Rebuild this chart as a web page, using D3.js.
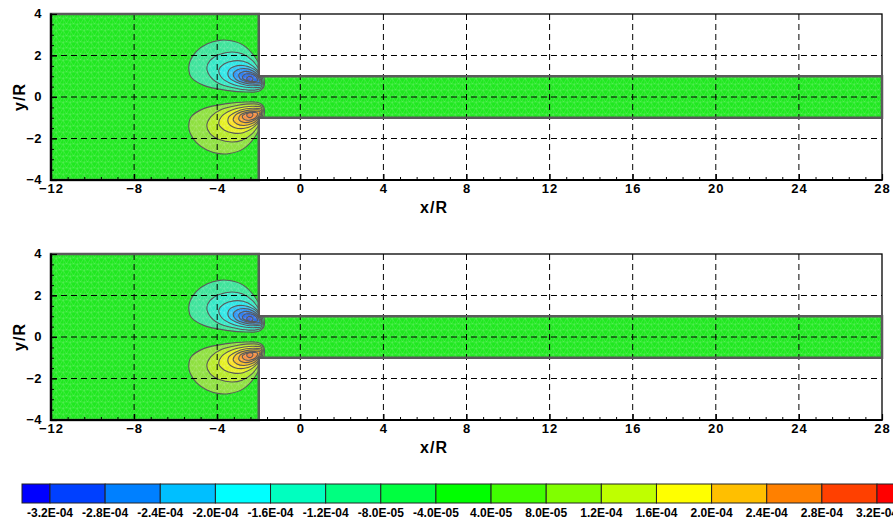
<!DOCTYPE html>
<html><head><meta charset="utf-8">
<script src="https://cdn.jsdelivr.net/npm/d3@7"></script>
<style>
body{margin:0;background:#fff}
svg{display:block}
text{font-family:"Liberation Sans",Arial,sans-serif;font-weight:bold;fill:#000}
</style>
</head><body>
<svg id="chart" width="893" height="520"></svg>
<script>
// ---------- data ----------
const xTicks = [-12,-8,-4,0,4,8,12,16,20,24,28];
const yTicks = [-4,-2,0,2,4];
const xGrid = [-8,-4,0,4,8,12,16,20,24];
const yGrid = [-2,0,2];
const domainOutline = [[-12,4],[-2,4],[-2,1],[28,1],[28,-1],[-2,-1],[-2,-4],[-12,-4]];
// contour levels (magnitude) of the two lobes near the step corner
const contourLevels = [4e-5, 8e-5, 1.2e-4, 1.6e-4, 2.0e-4, 2.4e-4, 2.8e-4, 3.2e-4];
// outline of each level, points (x/R, |y/R|)
const lobeOutline04 = [[-1.75,0.5],[-1.85,1.3],[-2.2,1.95],[-2.75,2.5],[-3.4,2.72],[-3.9,2.73],[-4.5,2.55],[-5.0,2.2],[-5.3,1.75],[-5.37,1.4],[-5.25,0.95],[-4.65,0.56],[-3.55,0.32],[-2.6,0.24],[-2.0,0.28]];
const lobeOutline08 = [[-1.8,0.5],[-1.9,1.15],[-2.3,1.75],[-2.8,2.08],[-3.3,2.17],[-3.9,2.05],[-4.35,1.75],[-4.5,1.4],[-4.3,0.95],[-3.8,0.6],[-3.0,0.4],[-2.3,0.33],[-1.95,0.38]];
const lobeOutline12 = [[-1.85,0.55],[-1.95,1.1],[-2.3,1.5],[-2.75,1.72],[-3.2,1.74],[-3.65,1.6],[-3.92,1.3],[-3.8,0.95],[-3.35,0.65],[-2.7,0.48],[-2.15,0.45],[-1.9,0.48]];
const lobeOutline16 = [[-1.85,0.6],[-1.95,1.05],[-2.3,1.38],[-2.75,1.52],[-3.15,1.48],[-3.45,1.28],[-3.45,0.98],[-3.1,0.72],[-2.6,0.57],[-2.1,0.55]];
const lobeOutline20 = [[-1.9,0.65],[-2.0,1.0],[-2.3,1.27],[-2.7,1.37],[-3.05,1.3],[-3.23,1.1],[-3.1,0.85],[-2.7,0.68],[-2.2,0.62]];
const lobeOutline24 = [[-1.95,0.7],[-2.05,0.98],[-2.35,1.18],[-2.7,1.23],[-2.95,1.1],[-2.9,0.88],[-2.6,0.74],[-2.2,0.7]];
const lobeOutline28 = [[-2.05,0.78],[-2.15,1.0],[-2.45,1.12],[-2.72,1.07],[-2.78,0.9],[-2.55,0.78],[-2.25,0.75]];
const lobeOutline32 = [[-2.28,0.86],[-2.35,0.97],[-2.5,0.98],[-2.58,0.88],[-2.5,0.76],[-2.35,0.76]];
const lobeOutlines = [lobeOutline04,lobeOutline08,lobeOutline12,lobeOutline16,lobeOutline20,lobeOutline24,lobeOutline28,lobeOutline32];
const lobeSigns = [1,-1]; // upper lobe (negative values), lower lobe (positive values)
// flood colour seen inside each contour (outer -> inner)
const negLobeFill = ["#3ee39a","#36e8c6","#2ee6e6","#30c6f6","#3098f6","#3080f0","#3070e8","#4062e0"];
const posLobeFill = ["#8ee040","#b8ea2a","#e6f022","#f8e022","#f8c028","#f8a030","#f89040","#f08040"];
const colorbarLabels = ["-3.2E-04","-2.8E-04","-2.4E-04","-2.0E-04","-1.6E-04","-1.2E-04","-8.0E-05","-4.0E-05",
                        "4.0E-05","8.0E-05","1.2E-04","1.6E-04","2.0E-04","2.4E-04","2.8E-04","3.2E-04"];
const colorbarColors = ["#0000ff","#0040ff","#0080ff","#00bfff","#00ffff","#00ffbf","#00ff80","#00ff40","#00ff00",
                        "#40ff00","#80ff00","#bfff00","#ffff00","#ffbf00","#ff8000","#ff4000","#ff0000"];
const panelsY = [[180,14],[420,254]];

// ---------- drawing ----------
const svg = d3.select("#chart");
const W = 893;
const bgGreen = "#20e820";
const gray = "#5a5a5a";

// faint triangular mesh texture
const defs = svg.append("defs");
const pat = defs.append("pattern").attr("id", "mesh").attr("patternUnits", "userSpaceOnUse")
  .attr("width", 7).attr("height", 6);
pat.append("path").attr("d", "M0,0L7,0M0,0L3.5,6M7,0L3.5,6M0,6L7,6M0,0L0,6")
  .attr("stroke", "#ffffff").attr("stroke-opacity", 0.22).attr("stroke-width", 0.6).attr("fill", "none");

panelsY.forEach((yr, pi) => {
  const x = d3.scaleLinear().domain([-12,28]).range([51,882]);
  const y = d3.scaleLinear().domain([-4,4]).range(yr);
  const g = svg.append("g");
  const domPath = "M" + domainOutline.map(p => [x(p[0]), y(p[1])].join(",")).join("L") + "Z";
  const clipId = "dom" + pi;
  g.append("clipPath").attr("id", clipId).append("path").attr("d", domPath);

  g.append("path").attr("d", domPath).attr("fill", bgGreen);

  const cg = g.append("g").attr("clip-path", `url(#${clipId})`);
  const line = s => d3.line().x(d => x(d[0])).y(d => y(s * d[1])).curve(d3.curveCatmullRomClosed.alpha(0.5));
  lobeSigns.forEach(s => {
    const fills = s > 0 ? negLobeFill : posLobeFill;
    lobeOutlines.forEach((pts, k) => {
      cg.append("path").attr("d", line(s)(pts)).attr("fill", fills[k]);
    });
  });
  cg.append("rect").attr("x", x(-12)).attr("y", y(4)).attr("width", x(28)-x(-12)).attr("height", y(-4)-y(4))
    .attr("fill", "url(#mesh)");
  lobeSigns.forEach(s => {
    lobeOutlines.forEach(pts => {
      cg.append("path").attr("d", line(s)(pts)).attr("fill", "none")
        .attr("stroke", gray).attr("stroke-width", 1.1);
    });
  });

  // grid
  const gg = g.append("g").attr("stroke", "#000").attr("stroke-width", 1).attr("stroke-dasharray", "6,4");
  xGrid.forEach(v => gg.append("line").attr("x1", x(v)).attr("x2", x(v)).attr("y1", y(-4)).attr("y2", y(4)));
  yGrid.forEach(v => gg.append("line").attr("x1", x(-12)).attr("x2", x(28)).attr("y1", y(v)).attr("y2", y(v)));

  // frame
  g.append("rect").attr("x", x(-12)).attr("y", y(4)).attr("width", x(28)-x(-12)).attr("height", y(-4)-y(4))
    .attr("fill", "none").attr("stroke", "#000").attr("stroke-width", 1.3);
  // domain boundary
  g.append("path").attr("d", domPath).attr("fill", "none").attr("stroke", gray).attr("stroke-width", 2.5);

  // axes
  const xMinor = d3.range(-12, 28.01, 0.8).filter(v => Math.abs(v/4 - Math.round(v/4)) > 1e-6);
  const yMinor = d3.range(-4, 4.01, 0.5).filter(v => Math.abs(v/2 - Math.round(v/2)) > 1e-6);
  const ax = g.append("g").attr("transform", `translate(0,${y(-4)})`)
    .call(d3.axisBottom(x).tickValues(xTicks).tickSizeInner(-6).tickSizeOuter(0).tickPadding(4).tickFormat(d3.format("d")));
  ax.select(".domain").remove();
  ax.selectAll("line").attr("stroke", "#000").attr("stroke-width", 1.2);
  ax.selectAll("text").style("font-size", "13px").style("letter-spacing", "1px");
  const axm = g.append("g").attr("transform", `translate(0,${y(-4)})`)
    .call(d3.axisBottom(x).tickValues(xMinor).tickSizeInner(-3).tickSizeOuter(0).tickFormat(""));
  axm.select(".domain").remove();
  axm.selectAll("line").attr("stroke", "#000").attr("stroke-width", 1);

  const ay = g.append("g").attr("transform", `translate(${x(-12)},0)`)
    .call(d3.axisLeft(y).tickValues(yTicks).tickSizeInner(-6).tickSizeOuter(0).tickPadding(9).tickFormat(d3.format("d")));
  ay.select(".domain").remove();
  ay.selectAll("line").attr("stroke", "#000").attr("stroke-width", 1.2);
  ay.selectAll("text").style("font-size", "13px").style("letter-spacing", "0.5px").attr("dy", "0.3em");
  const aym = g.append("g").attr("transform", `translate(${x(-12)},0)`)
    .call(d3.axisLeft(y).tickValues(yMinor).tickSizeInner(-3).tickSizeOuter(0).tickFormat(""));
  aym.select(".domain").remove();
  aym.selectAll("line").attr("stroke", "#000").attr("stroke-width", 1);

  g.append("line").attr("x1", x(-12)).attr("x2", x(-12)).attr("y1", y(4)-0.5).attr("y2", y(-4)+1)
    .attr("stroke", "#000").attr("stroke-width", 2.2);
  g.append("line").attr("x1", x(-12)-1).attr("x2", x(28)+0.5).attr("y1", y(-4)).attr("y2", y(-4))
    .attr("stroke", "#000").attr("stroke-width", 2.2);

  g.append("text").attr("x", 434).attr("y", y(-4) + 33).attr("text-anchor", "middle")
    .style("font-size", "16px").style("letter-spacing", "1px").text("x/R");
  g.append("text").attr("transform", `translate(25,${y(0)}) rotate(-90)`).attr("text-anchor", "middle")
    .style("font-size", "16px").style("letter-spacing", "1px").text("y/R");
});

// colorbar
const cb = d3.scalePoint().domain(colorbarLabels).range([50, 877]);
const cbg = svg.append("g");
colorbarColors.forEach((c, i) => {
  const x0 = i === 0 ? 22 : cb(colorbarLabels[i-1]);
  const x1 = i === colorbarColors.length - 1 ? W + 20 : cb(colorbarLabels[i]);
  cbg.append("rect").attr("x", x0).attr("y", 484).attr("width", x1 - x0).attr("height", 19)
    .attr("fill", c).attr("stroke", "#222").attr("stroke-width", 1);
});
cbg.selectAll("text.cbl").data(colorbarLabels).join("text").attr("class", "cbl")
  .attr("x", d => cb(d)).attr("y", 517).attr("text-anchor", "middle")
  .style("font-size", "12px").text(d => d);
</script>
</body></html>
